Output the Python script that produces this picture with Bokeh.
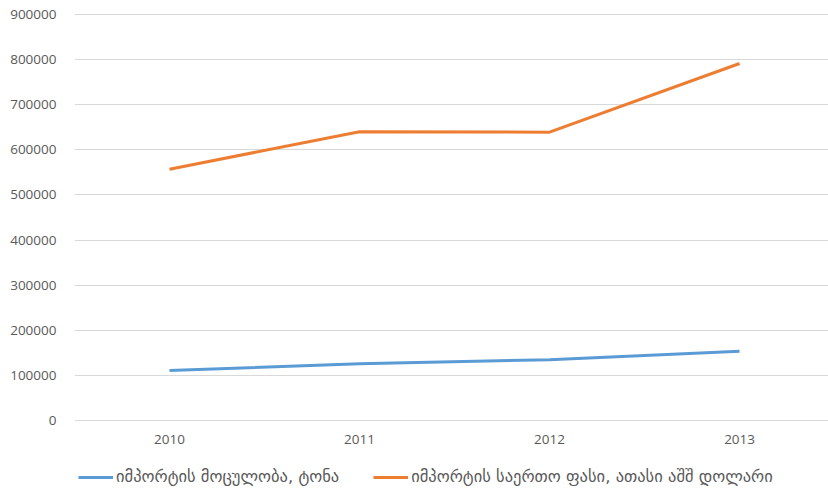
from bokeh.plotting import figure
from bokeh.layouts import column
from bokeh.models import (Range1d, FixedTicker, SingleIntervalTicker, BasicTickFormatter,
                          Legend, LegendItem)
from bokeh.embed import file_html
from bokeh.resources import INLINE

years = [2010, 2011, 2012, 2013]
volume_tons = [111000, 126000, 135000, 154000]
value_kusd = [557000, 640000, 639000, 791000]
series_names = ["იმპორტის მოცულობა, ტონა", "იმპორტის საერთო ფასი, ათასი აშშ დოლარი"]

BLUE = "#5b9bd5"
ORANGE = "#ed7d31"
TXT = "#595959"
FONT = "Open Sans"

p = figure(width=828, height=454, output_backend="svg", toolbar_location=None,
           x_range=Range1d(2009.5, 2013.468), y_range=Range1d(-4000, 904000),
           min_border_left=74, min_border_right=0, min_border_top=12, min_border_bottom=32)
p.outline_line_color = None
p.background_fill_color = "white"
p.border_fill_color = "white"

p.line(years, volume_tons, line_color=BLUE, line_width=3)
p.line(years, value_kusd, line_color=ORANGE, line_width=3)

p.xgrid.grid_line_color = None
p.ygrid.grid_line_color = "#d9d9d9"
p.ygrid.grid_line_width = 1

p.xaxis.ticker = FixedTicker(ticks=years)
p.yaxis.ticker = SingleIntervalTicker(interval=100000)
p.yaxis.formatter = BasicTickFormatter(use_scientific=False)
for ax in (p.xaxis[0], p.yaxis[0]):
    ax.axis_line_color = None
    ax.major_tick_line_color = None
    ax.minor_tick_line_color = None
    ax.major_tick_out = 0
    ax.major_tick_in = 0
    ax.major_label_text_font = FONT
    ax.major_label_text_font_size = "13.5px"
    ax.major_label_text_color = TXT
p.yaxis.major_label_standoff = 14
p.xaxis.major_label_standoff = 12

# legend strip below the chart (same series, drawn outside its own view)
q = figure(width=828, height=36, output_backend="svg", toolbar_location=None,
           x_range=Range1d(0, 1), y_range=Range1d(0, 1),
           x_axis_location=None, y_axis_location=None,
           min_border_left=0, min_border_right=0, min_border_top=0, min_border_bottom=0)
q.grid.visible = False
q.outline_line_color = None
q.border_fill_color = "white"
l1 = q.line(years, volume_tons, line_color=BLUE, line_width=3)
l2 = q.line(years, value_kusd, line_color=ORANGE, line_width=3)

legend = Legend(items=[LegendItem(label=series_names[0], renderers=[l1]),
                       LegendItem(label=series_names[1], renderers=[l2])],
                orientation="horizontal", location=(0, 0),
                label_text_font="DejaVu Sans", label_text_font_size="16.5px",
                label_text_color=TXT, glyph_width=35, glyph_height=14,
                label_standoff=3, spacing=34, padding=4, margin=0,
                border_line_alpha=0, background_fill_alpha=0)
q.add_layout(legend, "center")

layout = column(p, q, spacing=0)
open("out.html", "w").write(file_html(layout, INLINE))
